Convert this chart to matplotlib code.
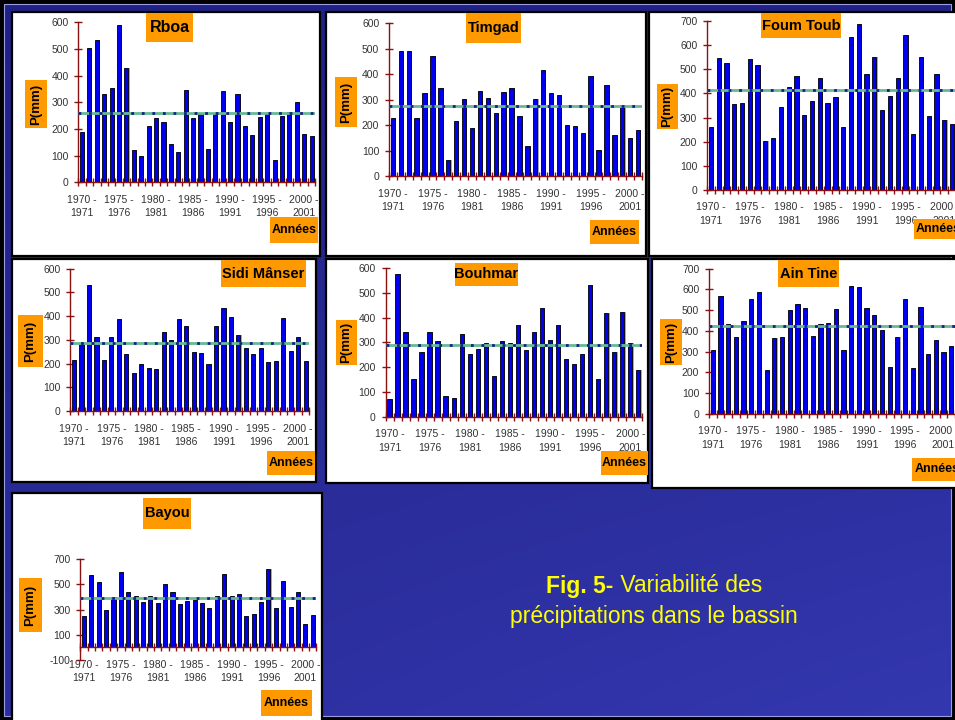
import numpy as np
import matplotlib
matplotlib.use("Agg")
import matplotlib.pyplot as plt
from matplotlib.patches import Rectangle
from matplotlib.ticker import FixedLocator, NullFormatter

plt.rcParams['font.family'] = ['Liberation Sans', 'DejaVu Sans']
plt.rcParams['axes.unicode_minus'] = False

# ---------------- data (mm) ----------------
years = list(range(1970, 2002))
tick_years = [1970, 1975, 1980, 1985, 1990, 1995, 2000]
tick_labels = [f"{y} -\n{y + 1}" for y in tick_years]

rboa = [190, 505, 535, 330, 355, 590, 430, 120, 100, 210, 240, 228, 142, 115, 345, 240,
        255, 125, 260, 342, 228, 330, 212, 178, 245, 258, 82, 250, 262, 300, 180, 173]
timgad = [230, 490, 492, 228, 325, 470, 347, 62, 218, 305, 190, 335, 308, 250, 330, 347,
          235, 120, 302, 418, 325, 320, 202, 198, 170, 393, 103, 357, 162, 278, 150, 182]
foum_toub = [260, 545, 525, 358, 362, 542, 518, 205, 215, 345, 425, 472, 312, 368, 462, 362,
             385, 262, 632, 688, 482, 552, 330, 388, 465, 642, 233, 552, 305, 482, 292, 273]
sidi_manser = [215, 283, 530, 312, 215, 312, 390, 242, 162, 200, 182, 178, 333, 300, 388, 358,
               250, 245, 200, 358, 435, 398, 320, 265, 242, 265, 208, 212, 392, 253, 312, 212]
bouhmar = [70, 575, 340, 152, 262, 342, 305, 85, 75, 332, 255, 272, 298, 165, 305, 298,
           372, 268, 342, 438, 310, 372, 232, 212, 255, 533, 152, 420, 262, 422, 298, 188]
ain_tine = [308, 570, 435, 370, 448, 555, 588, 212, 365, 370, 500, 528, 510, 375, 435, 440,
            505, 308, 615, 610, 510, 475, 402, 225, 370, 555, 222, 515, 290, 355, 298, 326]
bayou = [250, 570, 520, 300, 400, 595, 440, 410, 360, 410, 350, 505, 440, 340, 365, 372,
         350, 310, 410, 585, 410, 425, 248, 265, 360, 620, 310, 525, 318, 435, 188, 255]

# ---------------- figure ----------------
W, H = 955, 720
fig = plt.figure(figsize=(W / 100, H / 100), dpi=100)


def fr(x0, y0, x1, y1):
    """pixel box (top-left origin) -> figure fraction (x, y, w, h)"""
    return (x0 / W, 1 - y1 / H, (x1 - x0) / W, (y1 - y0) / H)


def frect(box, **kw):
    x, y, w, h = fr(*box)
    return Rectangle((x, y), w, h, transform=fig.transFigure, **kw)


# background gradient
bg = fig.add_axes([0, 0, 1, 1], zorder=-20)
gy, gx = np.mgrid[0:1:200j, 0:1:200j]
t = 0.55 * gy + 0.45 * gx * gy
c0 = np.array([0x20, 0x21, 0x84]) / 255
c1 = np.array([0x34, 0x38, 0xb0]) / 255
img = c0[None, None, :] * (1 - t[..., None]) + c1[None, None, :] * t[..., None]
bg.imshow(img, aspect='auto', extent=[0, 1, 0, 1], origin='upper')
bg.set_axis_off()

# outer border
fig.add_artist(Rectangle((0, 0), 1, 1, transform=fig.transFigure, fill=False,
                         edgecolor='black', lw=5, zorder=-15))
fig.add_artist(frect((4, 4, 951, 716), fill=False, edgecolor='#9c9ce0', lw=0.8, zorder=-15))

ORANGE = '#ff9900'
AXRED = '#8b1010'


def obox(box, text, size, rotation=0):
    x, y, w, h = fr(*box)
    fig.add_artist(frect(box, facecolor=ORANGE, edgecolor='none', zorder=5))
    fig.text(x + w / 2, y + h / 2, text, ha='center', va='center', rotation=rotation,
             fontsize=size, fontweight='bold', color='black', zorder=6)


def panel(frame, axbox, values, ymin, ymax, ystep, title, tbox, pbox, abox, tsize=10.5):
    fig.add_artist(frect(frame, facecolor='white', edgecolor='black', lw=1.6, zorder=-5))
    ax = fig.add_axes(fr(*axbox), zorder=1)
    ax.patch.set_visible(False)
    n = len(values)
    xs = np.arange(n)
    # shadow then bars
    ax.bar(xs + 0.14, values, width=0.55, color='#a8a8a8', edgecolor='none', zorder=1)
    ax.bar(xs, values, width=0.55, color='#0000ee', edgecolor='black', lw=0.6, zorder=2)
    m = float(np.mean(values))
    ax.plot([-0.5, n - 0.5], [m, m], color='#66bb95', lw=2.0, zorder=3, solid_capstyle='butt')
    ax.plot([-0.5, n - 0.5], [m, m], color='#1a1f80', lw=2.0,
            linestyle=(0, (1.0, 2.8)), zorder=4)
    ax.set_xlim(-0.5, n - 0.5)
    ax.set_ylim(ymin, ymax)
    for s in ('top', 'right'):
        ax.spines[s].set_visible(False)
    ax.spines['left'].set_color(AXRED)
    ax.spines['bottom'].set_color(AXRED)
    ax.spines['left'].set_linewidth(1.0)
    ax.spines['bottom'].set_linewidth(1.0)
    if ymin < 0:
        ax.spines['bottom'].set_position(('data', 0))
    ax.set_yticks(np.arange(ymin, ymax + 1, ystep))
    ax.tick_params(axis='y', direction='inout', length=6, color=AXRED, width=1.0,
                   labelsize=7.5, labelcolor='#333333', pad=4)
    ax.set_xticks([years.index(yv) for yv in tick_years])
    ax.set_xticklabels(tick_labels, linespacing=1.45)
    ax.tick_params(axis='x', which='major', length=0, labelsize=7.5,
                   labelcolor='#333333', pad=9)
    ax.xaxis.set_minor_locator(FixedLocator(np.arange(-0.5, n, 1.0)))
    ax.xaxis.set_minor_formatter(NullFormatter())
    ax.tick_params(axis='x', which='minor', direction='inout', length=6,
                   color=AXRED, width=1.0)
    obox(tbox, title, tsize)
    obox(pbox, 'P(mm)', 9.5, rotation=90)
    obox(abox, 'Années', 9)
    return ax


panel((12, 12, 320, 256), (78.3, 22.3, 315.3, 182.3), rboa, 0, 600, 100, 'Rboa',
      (146, 13, 193, 42), (25, 80, 47, 128), (270, 217, 318, 243), tsize=11.5)
panel((326, 12, 646, 256), (389, 23.3, 642, 176.3), timgad, 0, 600, 100, 'Timgad',
      (466, 13, 521, 43), (335, 77, 357, 127), (590, 220, 639, 244))
panel((649, 12, 962, 256), (707, 21, 956, 190), foum_toub, 0, 700, 100, 'Foum Toub',
      (761, 13, 841, 38), (657, 84, 678, 129), (914, 219, 962, 239))
panel((12, 259, 316, 482), (70.3, 268.7, 309.4, 411), sidi_manser, 0, 600, 100, 'Sidi Mânser',
      (221, 260, 306, 287), (18, 315, 43, 367), (267, 451, 315, 475))
panel((326, 259, 648, 483), (385.5, 268, 642.3, 416.7), bouhmar, 0, 600, 100, 'Bouhmar',
      (455, 263, 518, 286), (336, 320, 357, 365), (601, 451, 648, 475))
panel((652, 259, 962, 488), (709, 268.7, 955, 413.7), ain_tine, 0, 700, 100, 'Ain Tine',
      (778, 260, 839, 287), (660, 319, 682, 365), (912, 458, 962, 481))
panel((12, 493, 322, 725), (80.3, 559, 316.4, 660), bayou, -100, 700, 200, 'Bayou',
      (143, 498, 191, 529), (19, 578, 42, 632), (261, 690, 312, 716))

# caption
CAP = 16.5
t1 = fig.text(0, 1 - 586 / H, "Fig. 5-", fontsize=CAP, fontweight='bold', color='#ffff00',
              va='center')
t2 = fig.text(0, 1 - 586 / H, " Variabilité des", fontsize=CAP, color='#ffff00', va='center')
fig.canvas.draw()
r = fig.canvas.get_renderer()
w1 = t1.get_window_extent(r).width
w2 = t2.get_window_extent(r).width
x_start = 654 - (w1 + w2) / 2
t1.set_x(x_start / W)
t2.set_x((x_start + w1) / W)
fig.text(654 / W, 1 - 616 / H, "précipitations dans le bassin", fontsize=CAP,
         color='#ffff00', ha='center', va='center')

fig.savefig('out.png', dpi=100)
